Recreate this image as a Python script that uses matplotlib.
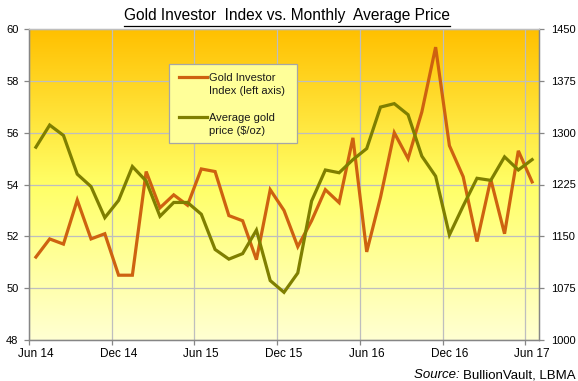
import matplotlib
matplotlib.use('Agg')
import matplotlib.pyplot as plt
import numpy as np
from matplotlib.colors import LinearSegmentedColormap
from matplotlib.lines import Line2D
from matplotlib.patches import Rectangle

plt.rcParams['font.family'] = ['Liberation Sans', 'DejaVu Sans']

months = ['Jun 14', 'Jul 14', 'Aug 14', 'Sep 14', 'Oct 14', 'Nov 14',
          'Dec 14', 'Jan 15', 'Feb 15', 'Mar 15', 'Apr 15', 'May 15',
          'Jun 15', 'Jul 15', 'Aug 15', 'Sep 15', 'Oct 15', 'Nov 15',
          'Dec 15', 'Jan 16', 'Feb 16', 'Mar 16', 'Apr 16', 'May 16',
          'Jun 16', 'Jul 16', 'Aug 16', 'Sep 16', 'Oct 16', 'Nov 16',
          'Dec 16', 'Jan 17', 'Feb 17', 'Mar 17', 'Apr 17', 'May 17',
          'Jun 17']
investor_index = [51.2, 51.9, 51.7, 53.4, 51.9, 52.1,
                  50.5, 50.5, 54.5, 53.1, 53.6, 53.2,
                  54.6, 54.5, 52.8, 52.6, 51.1, 53.8,
                  53.0, 51.6, 52.6, 53.8, 53.3, 55.8,
                  51.4, 53.5, 56.0, 55.0, 56.8, 59.3,
                  55.5, 54.3, 51.8, 54.2, 52.1, 55.3,
                  54.1]
gold_price = [1279, 1311, 1296, 1240, 1222, 1177,
              1202, 1251, 1230, 1179, 1199, 1199,
              1182, 1131, 1117, 1125, 1159, 1086,
              1069, 1097, 1201, 1246, 1242, 1261,
              1277, 1337, 1342, 1326, 1266, 1237,
              1152, 1194, 1234, 1231, 1265, 1246,
              1261]
tick_labels = ['Jun 14', 'Dec 14', 'Jun 15', 'Dec 15', 'Jun 16', 'Dec 16', 'Jun 17']

W, H = 578, 381
fig = plt.figure(figsize=(W / 100, H / 100), dpi=100)
fig.patch.set_facecolor('white')

def fx(px):
    return px / W

def fy(py):
    return 1 - py / H

ax = fig.add_axes([fx(29), fy(340), (539 - 29) / W, (340 - 29) / H])
ax2 = ax.twinx()

n = len(months)
x = np.arange(n)
ax.set_xlim(-0.5, n - 0.5)
ax.set_ylim(48, 60)
ax2.set_ylim(1000, 1450)

# background gradient
cmap = LinearSegmentedColormap.from_list(
    'gold', [(0.0, '#FFFFD2'), (0.5, '#FFFF66'), (1.0, '#FFC000')])
grad = np.linspace(0, 1, 256).reshape(-1, 1)
ax.imshow(grad, aspect='auto', cmap=cmap, extent=[-0.5, n - 0.5, 48, 60],
          origin='lower', zorder=0, interpolation='bicubic')

grid_c = '#BEBEBE'
spine_c = '#868686'

ax.set_yticks(np.arange(48, 61, 2))
ax2.set_yticks(np.arange(1000, 1451, 75))
ax.yaxis.grid(True, color=grid_c, lw=0.9)

# x: labels at category centres, grid/ticks at boundaries
label_pos = [months.index(t) for t in tick_labels]
ax.set_xticks(label_pos)
ax.set_xticklabels(tick_labels)
ax.set_xticks(np.arange(-0.5, n - 0.5, 6), minor=True)
ax.xaxis.grid(True, which='minor', color=grid_c, lw=0.9)
ax.tick_params(axis='x', which='major', length=0, pad=6, labelsize=8.5)
ax.tick_params(axis='x', which='minor', length=3.5, color=spine_c, width=0.9)
ax.tick_params(axis='y', length=3.5, color=spine_c, width=0.9, pad=4, labelsize=8)
ax2.tick_params(axis='y', length=3.5, color=spine_c, width=0.9, pad=5, labelsize=8)

for a in (ax, ax2):
    for s in a.spines.values():
        s.set_color(spine_c)
        s.set_linewidth(0.9)
ax.spines['top'].set_color(grid_c)
ax2.spines['top'].set_color(grid_c)

orange = '#CE6210'
olive = '#7F7F00'
ax.plot(x, investor_index, color=orange, lw=2.3, zorder=3, solid_joinstyle='miter')
ax2.plot(x, gold_price, color=olive, lw=2.3, zorder=3, solid_joinstyle='miter')

# legend (manual, pixel layout)
lx0, ly0, lx1, ly1 = 169, 64, 297, 143
rect = Rectangle((fx(lx0), fy(ly1)), fx(lx1) - fx(lx0), fy(ly0) - fy(ly1),
                 transform=fig.transFigure, facecolor='#FFFF99',
                 edgecolor='#A6A6A6', lw=0.9, zorder=10)
fig.patches.append(rect)
fs_leg = 8
for col, ly, lines in [(orange, 77, ['Gold Investor', 'Index (left axis)']),
                       (olive, 117, ['Average gold', 'price (\\$/oz)'])]:
    fig.lines.append(Line2D([fx(179), fx(207)], [fy(ly), fy(ly)], color=col,
                            lw=2.3, transform=fig.transFigure, zorder=11))
    for k, t in enumerate(lines):
        fig.text(fx(209), fy(ly + 1 + 13 * k), t, fontsize=fs_leg, va='center',
                 ha='left', color='#1a1a1a', zorder=12)

# title with underline
title = fig.text(fx(287), fy(15.5), 'Gold Investor  Index vs. Monthly  Average Price',
                 fontsize=11.2, ha='center', va='center', color='black')
fig.canvas.draw()
r = fig.canvas.get_renderer()
bb = title.get_window_extent(r)
fig.lines.append(Line2D([bb.x0 / W, bb.x1 / W], [fy(25.5), fy(25.5)],
                        color='black', lw=0.9, transform=fig.transFigure))

# source
src = fig.text(fx(576), fy(375), 'BullionVault, LBMA', fontsize=9.5,
               ha='right', va='center', color='black')
fig.canvas.draw()
sb = src.get_window_extent(r)
fig.text(sb.x0 / W, fy(375), 'Source: ', fontsize=9.5, style='italic',
         ha='right', va='center', color='black')

fig.savefig('out.png', dpi=100)
